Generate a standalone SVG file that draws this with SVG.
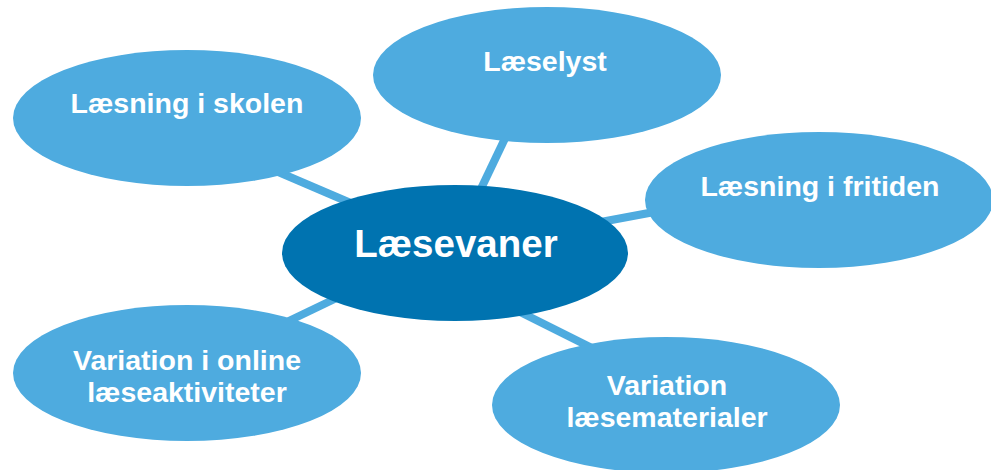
<svg xmlns="http://www.w3.org/2000/svg" width="991" height="470" viewBox="0 0 991 470">
<style>
.conn{stroke:#4EABDF;stroke-width:8;stroke-linecap:butt;fill:none}
.outer{fill:#4EABDF}
.center{fill:#0073B0}
text{font-family:"Liberation Sans",Arial,sans-serif;font-weight:bold;fill:#FFFFFF;text-anchor:middle}
.t{font-size:28.5px}
.tc{font-size:38.5px}
</style>
<rect width="991" height="470" fill="#FFFFFF"/>
<g id="connectors">
<line class="conn" x1="250" y1="160" x2="360" y2="207"/>
<line class="conn" x1="510" y1="128" x2="478" y2="195"/>
<line class="conn" x1="590" y1="224" x2="665" y2="210"/>
<line class="conn" x1="270" y1="330" x2="345" y2="294"/>
<line class="conn" x1="510" y1="307" x2="600" y2="352"/>
</g>
<g id="node-skolen">
<ellipse class="outer" cx="187" cy="118" rx="174" ry="68"/>
<text class="t" x="187" y="113">Læsning i skolen</text>
</g>
<g id="node-laeselyst">
<ellipse class="outer" cx="547" cy="75" rx="174" ry="68"/>
<text class="t" x="545" y="71">Læselyst</text>
</g>
<g id="node-fritiden">
<ellipse class="outer" cx="819" cy="200" rx="174" ry="68"/>
<text class="t" x="820" y="196">Læsning i fritiden</text>
</g>
<g id="node-online">
<ellipse class="outer" cx="187" cy="373" rx="174" ry="68"/>
<text class="t" x="187" y="370">Variation i online</text>
<text class="t" x="187" y="402">læseaktiviteter</text>
</g>
<g id="node-materialer">
<ellipse class="outer" cx="666" cy="405" rx="174" ry="68"/>
<text class="t" x="667" y="395">Variation</text>
<text class="t" x="667" y="427">læsematerialer</text>
</g>
<g id="node-laesevaner">
<ellipse class="center" cx="455" cy="253" rx="173" ry="68"/>
<text class="tc" x="456" y="257">Læsevaner</text>
</g>
</svg>
